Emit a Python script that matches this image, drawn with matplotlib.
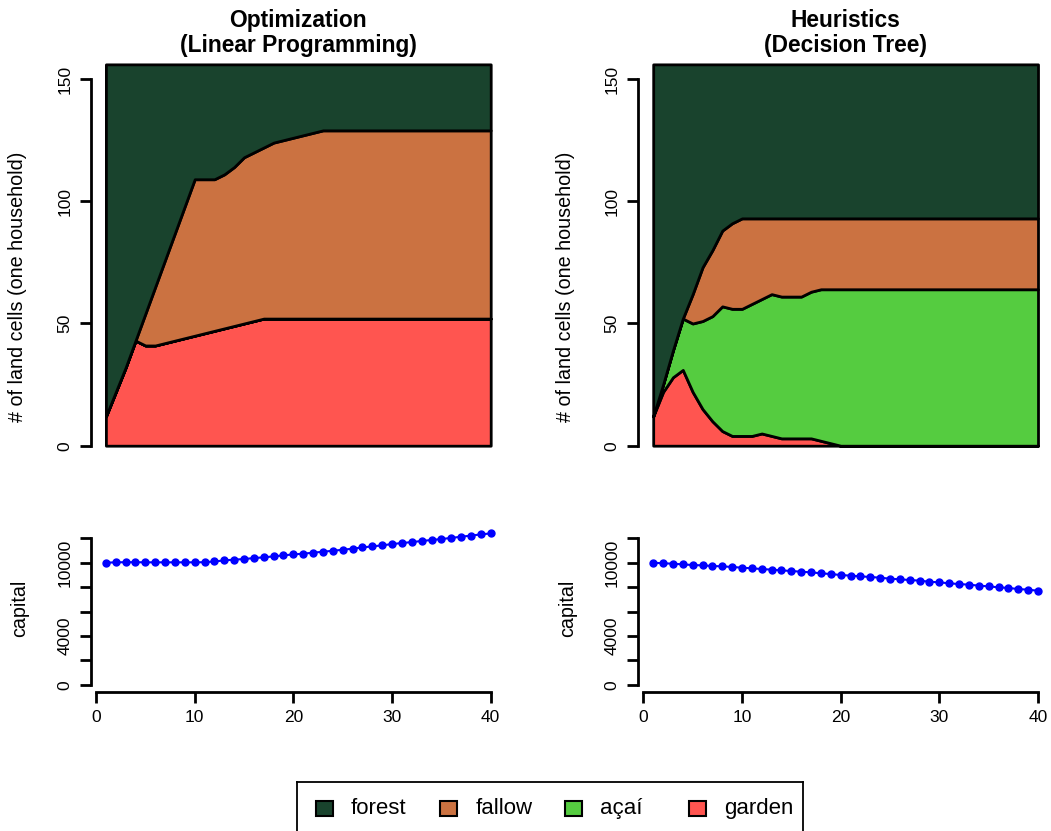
import matplotlib
matplotlib.use("Agg")
import matplotlib.pyplot as plt
from matplotlib.patches import Rectangle

plt.rcParams['font.family'] = ['Liberation Sans', 'DejaVu Sans']

# ---- data ----
years = list(range(1, 41))
land_names = ['forest', 'fallow', 'açaí', 'garden']
land_colors = ['#19432d', '#cb7241', '#55cc40', '#ff5550']

# optimization (linear programming)
garden_opt = [12, 22, 32, 43, 41, 41, 42, 43, 44, 45, 46, 47, 48, 49, 50, 51, 52] + [52] * 23
acai_opt = [0] * 40
fallow_opt = [0, 0, 0, 0, 13, 24, 34, 44, 54, 64, 63, 62, 63, 65, 68, 69, 70, 72, 73, 74,
              75, 76] + [77] * 18
forest_opt = [144, 134, 124, 113, 102, 91, 80, 69, 58, 47, 47, 47, 45, 42, 38, 36, 34, 32,
              31, 30, 29, 28] + [27] * 18
capital_opt = [10000, 10030, 10040, 10040, 10030, 10030, 10030, 10030, 10030, 10030,
               10040, 10100, 10190, 10250, 10300, 10380, 10440, 10520, 10600, 10680,
               10740, 10820, 10900, 10980, 11060, 11150, 11250, 11340, 11420, 11530,
               11610, 11690, 11780, 11860, 11940, 12030, 12130, 12220, 12320, 12400]

# heuristics (decision tree)
garden_heur = [12, 22, 28, 31, 22, 15, 10, 6, 4, 4, 4, 5, 4, 3, 3, 3, 3, 2, 1] + [0] * 21
acai_heur = [0, 3, 11, 21, 28, 36, 43, 51, 52, 52, 54, 55, 58, 58, 58, 58, 60, 62, 63] + [64] * 21
fallow_heur = [0, 0, 0, 0, 12, 22, 27, 31, 35, 37, 35, 33, 31, 32, 32, 32, 30, 29] + [29] * 22
forest_heur = [144, 131, 117, 104, 94, 83, 76, 68, 65, 63] + [63] * 30
capital_heur = [10000, 9950, 9920, 9860, 9810, 9780, 9730, 9700, 9650, 9590,
                9540, 9480, 9430, 9370, 9320, 9260, 9210, 9130, 9070, 8990,
                8940, 8880, 8830, 8770, 8690, 8640, 8580, 8530, 8440, 8390,
                8310, 8250, 8200, 8120, 8060, 7980, 7930, 7840, 7790, 7700]

titles = ["Optimization\n(Linear Programming)", "Heuristics\n(Decision Tree)"]
land_ticks = [0, 50, 100, 150]
cap_ticks = [0, 2000, 4000, 6000, 8000, 10000, 12000]
cap_labels = ['0', '', '4000', '', '', '10000', '']
x_ticks = [0, 10, 20, 30, 40]

# ---- layout (pixels) ----
W, H = 1051, 831
fig = plt.figure(figsize=(W / 100, H / 100), dpi=100)


def add_ax(left, right, top, bottom):
    return fig.add_axes([left / W, 1 - bottom / H, (right - left) / W, (bottom - top) / H])


def style_axis(ax):
    ax.spines['top'].set_visible(False)
    ax.spines['right'].set_visible(False)
    ax.spines['left'].set_linewidth(2)
    ax.spines['bottom'].set_linewidth(2)
    ax.tick_params(direction='out', length=8, width=2, labelsize=12.5, pad=5)
    ax.tick_params(axis='y', labelrotation=90)
    for lab in ax.get_yticklabels():
        lab.set_va('center')
    ax.set_facecolor('none')


col_offset = [0, 547.3]
data_sets = [
    (garden_opt, acai_opt, fallow_opt, forest_opt, capital_opt),
    (garden_heur, acai_heur, fallow_heur, forest_heur, capital_heur),
]

for i, (garden, acai, fallow, forest, capital) in enumerate(data_sets):
    off = col_offset[i]
    left, right = 90.5 + off, 506.1 + off

    # land use stack
    ax = add_ax(left, right, 47, 460)
    ax.stackplot(years, garden, acai, fallow, forest,
                 colors=land_colors[::-1], edgecolor='black', linewidth=2)
    ax.set_xlim(-0.56, 41.56)
    ax.set_ylim(-5.85, 163.1)
    ax.set_yticks(land_ticks)
    ax.set_xticks([])
    ax.spines['bottom'].set_visible(False)
    ax.spines['left'].set_bounds(0, 150)
    style_axis(ax)

    fig.text((left + right) / 2 / W, 1 - 33 / H, titles[i], ha='center', va='center',
             fontsize=16.4, fontweight='bold', linespacing=1.15)
    fig.text((18 + off) / W, 1 - 287 / H, "# of land cells (one household)",
             rotation=90, ha='center', va='center', fontsize=14.2)

    # capital
    bx = add_ax(left, right, 527, 692)
    bx.plot(years, capital, color='blue', linewidth=1.5, marker='o', markersize=5)
    bx.set_xlim(-0.56, 41.56)
    bx.set_ylim(-598, 12926)
    bx.set_yticks(cap_ticks)
    bx.set_yticklabels(cap_labels)
    bx.set_xticks(x_ticks)
    bx.spines['left'].set_bounds(0, 12000)
    bx.spines['bottom'].set_bounds(0, 40)
    style_axis(bx)

    fig.text((20 + off) / W, 1 - 608 / H, "capital",
             rotation=90, ha='center', va='center', fontsize=14.2)

# ---- legend (R-style horizontal, equal spacing) ----
lax = add_ax(297, 803, 782, 845)
lax.set_xlim(297, 803)
lax.set_ylim(845, 782)
lax.set_xticks([])
lax.set_yticks([])
for s in lax.spines.values():
    s.set_linewidth(1.3)
for k, (name, col) in enumerate(zip(land_names, land_colors)):
    cx = 324 + k * 124.5
    lax.add_patch(Rectangle((cx - 8.5, 808 - 7.5), 17, 15, facecolor=col,
                            edgecolor='black', linewidth=1.5))
    lax.text(cx + 27, 808.5, name, ha='left', va='center', fontsize=16)

fig.savefig('out.png', dpi=100)
